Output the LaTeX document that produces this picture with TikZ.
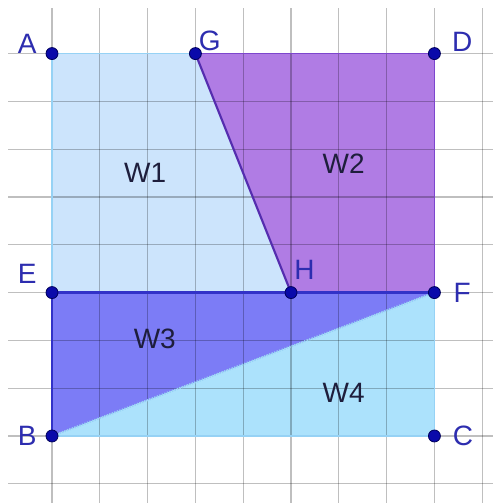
\documentclass[tikz,border=0pt]{standalone}
\usepackage{fontspec}
\setmainfont{Liberation Sans}
\begin{document}
\begin{tikzpicture}[x=35.85pt,y=35.85pt,
  pt/.style={circle,fill=ptblue,draw=ptdark,line width=0.6pt,inner sep=0pt,minimum size=9pt},
  lbl/.style={text=lblblue,font=\fontsize{21}{21}\selectfont,inner sep=0pt},
  wlbl/.style={text=wdark,font=\fontsize{21}{21}\selectfont,inner sep=0pt}]
\definecolor{ptblue}{RGB}{10,10,170}
\definecolor{ptdark}{RGB}{0,0,90}
\definecolor{lblblue}{RGB}{45,45,175}
\definecolor{wdark}{RGB}{30,30,60}
\definecolor{fillA}{RGB}{204,228,252}
\definecolor{fillB}{RGB}{176,124,228}
\definecolor{fillC}{RGB}{124,124,246}
\definecolor{fillD}{RGB}{172,226,252}
\definecolor{edgeGH}{RGB}{85,45,175}
\definecolor{edgeEF}{RGB}{50,50,200}
\definecolor{edgeP}{RGB}{125,70,205}
\definecolor{edgeL}{RGB}{150,210,245}
\useasboundingbox (-1.088,-1.402) rectangle (9.226,9.121);
\fill[white] (-1.088,-1.402) rectangle (9.226,9.121);
% coordinates
\coordinate (A) at (0,8);
\coordinate (G) at (3,8);
\coordinate (D) at (8,8);
\coordinate (E) at (0,3);
\coordinate (H) at (5,3);
\coordinate (F) at (8,3);
\coordinate (B) at (0,0);
\coordinate (C) at (8,0);
% fills
\fill[fillA] (A) -- (G) -- (H) -- (E) -- cycle;
\fill[fillB] (G) -- (D) -- (F) -- (H) -- cycle;
\fill[fillC] (E) -- (F) -- (B) -- cycle;
\fill[fillD] (B) -- (C) -- (F) -- cycle;
% grid
\foreach \i in {0,...,9}
  \draw[black,opacity=0.25,line width=1pt] (\i,-1.402) -- (\i,8.954);
\foreach \j in {-1,...,8}
  \draw[black,opacity=0.25,line width=1pt] (-0.92,\j) -- (9.226,\j);
% edges
\draw[edgeL,line width=1pt] (A) -- (G);
\draw[edgeL,line width=1pt] (A) -- (E);
\draw[edgeP,line width=1.2pt] (G) -- (D) -- (F);
\draw[edgeL,line width=1.2pt] (F) -- (C) -- (B);
\draw[edgeGH,line width=1.6pt] (G) -- (H);
\draw[edgeEF,line width=2.4pt] (E) -- (F);
\draw[edgeEF,line width=1.8pt] (E) -- (B);
\draw[edgeL,line width=1.6pt,dash pattern=on 1pt off 1pt] (B) -- (F);
% points
\foreach \p in {A,G,D,E,H,F,B,C}
  \node[pt] (p\p) at (\p) {};
% labels
\node[lbl] (lA) at (-0.52,8.2) {A};
\node[lbl] (lG) at (3.3,8.27) {G};
\node[lbl] (lD) at (8.58,8.25) {D};
\node[lbl] (lE) at (-0.52,3.4) {E};
\node[lbl] (lH) at (5.28,3.48) {H};
\node[lbl] (lF) at (8.58,3.0) {F};
\node[lbl] (lB) at (-0.52,0.0) {B};
\node[lbl] (lC) at (8.6,0.0) {C};
\node[wlbl] (w1) at (1.95,5.5) {W1};
\node[wlbl] (w2) at (6.1,5.7) {W2};
\node[wlbl] (w3) at (2.15,2.04) {W3};
\node[wlbl] (w4) at (6.1,0.9) {W4};
\end{tikzpicture}
\end{document}
